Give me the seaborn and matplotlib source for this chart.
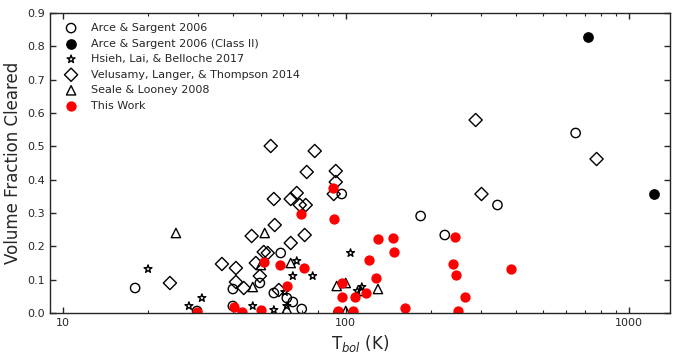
import matplotlib
matplotlib.use("Agg")
import matplotlib.pyplot as plt
import seaborn as sns

# Arce & Sargent 2006
arce_t = [18.0, 39.9, 39.9, 29.8, 49.7, 58.9, 55.7, 61.9, 65.0, 69.9, 96.8, 184, 224, 344, 650]
arce_f = [0.075, 0.072, 0.021, 0.006, 0.090, 0.180, 0.060, 0.045, 0.033, 0.012, 0.357, 0.291, 0.234, 0.324, 0.540]

# Arce & Sargent 2006 (Class II)
arce2_t = [716, 1226]
arce2_f = [0.828, 0.357]

# Hsieh, Lai, & Belloche 2017
hsieh_t = [20.0, 27.9, 31.0, 46.9, 55.7, 60.9, 61.9, 65.0, 67.1, 76.4, 104, 110, 114]
hsieh_f = [0.132, 0.021, 0.045, 0.021, 0.009, 0.063, 0.021, 0.111, 0.156, 0.111, 0.180, 0.066, 0.078]

# Velusamy, Langer, & Thompson 2014
velu_t = [23.9, 36.5, 40.9, 40.9, 43.6, 46.5, 48.1, 49.7, 51.3, 53.0, 54.3, 55.7, 56.1, 58.0,
          63.9, 63.9, 67.1, 68.8, 72.2, 71.6, 72.8, 77.7, 92.2, 92.2, 90.7, 288, 302, 771]
velu_f = [0.090, 0.147, 0.135, 0.093, 0.075, 0.231, 0.150, 0.111, 0.183, 0.180, 0.501, 0.342, 0.264, 0.069,
          0.342, 0.210, 0.360, 0.324, 0.324, 0.234, 0.423, 0.486, 0.426, 0.393, 0.357, 0.579, 0.357, 0.462]

# Seale & Looney 2008
seale_t = [25.1, 51.7, 46.9, 50.1, 63.9, 61.9, 92.9, 100, 100, 130, 113]
seale_f = [0.240, 0.240, 0.078, 0.144, 0.150, 0.012, 0.081, 0.090, 0.006, 0.072, 0.066]

# This Work
work_t = [29.8, 40.2, 42.9, 50.1, 51.3, 58.5, 61.9, 71.0, 69.3, 89.9, 90.7, 96.8, 96.8, 93.7, 106,
          108, 118, 128, 121, 130, 147, 148, 162, 243, 239, 245, 265, 249, 383]
work_f = [0.003, 0.018, 0.003, 0.009, 0.153, 0.144, 0.081, 0.135, 0.297, 0.375, 0.282, 0.090, 0.048, 0.006, 0.006,
          0.048, 0.060, 0.105, 0.159, 0.222, 0.225, 0.183, 0.015, 0.228, 0.147, 0.114, 0.048, 0.006, 0.132]

sns.set_style("ticks")
plt.rcParams["font.family"] = ["DejaVu Sans"]
plt.rcParams["xtick.direction"] = "in"
plt.rcParams["ytick.direction"] = "in"
plt.rcParams["xtick.top"] = True
plt.rcParams["ytick.right"] = True

fig = plt.figure(figsize=(6.78, 3.58), dpi=100)
ax = fig.add_axes([0.0737, 0.1257, 0.9143, 0.838])

sns.scatterplot(x=arce_t, y=arce_f, ax=ax, marker="o", s=45, facecolor="none",
                edgecolor="black", linewidth=1, label="Arce & Sargent 2006")
sns.scatterplot(x=arce2_t, y=arce2_f, ax=ax, marker="o", s=45, color="black",
                edgecolor="black", linewidth=1, label="Arce & Sargent 2006 (Class II)")
sns.scatterplot(x=hsieh_t, y=hsieh_f, ax=ax, marker="*", s=35, facecolor="none",
                edgecolor="black", linewidth=1, label="Hsieh, Lai, & Belloche 2017")
sns.scatterplot(x=velu_t, y=velu_f, ax=ax, marker="D", s=45, facecolor="none",
                edgecolor="black", linewidth=1, label="Velusamy, Langer, & Thompson 2014")
sns.scatterplot(x=seale_t, y=seale_f, ax=ax, marker="^", s=45, facecolor="none",
                edgecolor="black", linewidth=1, label="Seale & Looney 2008")
sns.scatterplot(x=work_t, y=work_f, ax=ax, marker="o", s=55, color="red",
                edgecolor="red", linewidth=0, label="This Work")

ax.set_xscale("log")
ax.set_xlim(9, 1400)
ax.set_ylim(0, 0.9)
ax.set_yticks([0.0, 0.1, 0.2, 0.3, 0.4, 0.5, 0.6, 0.7, 0.8, 0.9])
ax.set_xticks([10, 100, 1000])
ax.set_xticklabels(["10", "100", "1000"])
ax.tick_params(labelsize=8, width=1, length=4)
ax.tick_params(which="minor", length=2, width=0.8)
ax.set_xlabel(r"T$_{bol}$ (K)", fontsize=12)
ax.set_ylabel("Volume Fraction Cleared", fontsize=12)
for sp in ax.spines.values():
    sp.set_visible(True)
    sp.set_linewidth(1)

ax.legend(loc="upper left", frameon=False, fontsize=8, scatterpoints=1,
          handletextpad=0.8, borderaxespad=0.5)

fig.savefig("out.png", dpi=100)
